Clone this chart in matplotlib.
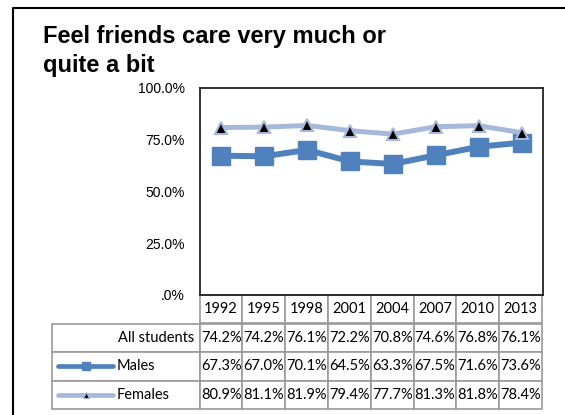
import matplotlib
matplotlib.use('Agg')
import matplotlib.pyplot as plt
from matplotlib.lines import Line2D

years = ['1992', '1995', '1998', '2001', '2004', '2007', '2010', '2013']
all_students = [74.2, 74.2, 76.1, 72.2, 70.8, 74.6, 76.8, 76.1]
males = [67.3, 67.0, 70.1, 64.5, 63.3, 67.5, 71.6, 73.6]
females = [80.9, 81.1, 81.9, 79.4, 77.7, 81.3, 81.8, 78.4]
row_names = ['All students', 'Males', 'Females']
y_ticks = [0, 25, 50, 75, 100]
y_labels = ['.0%', '25.0%', '50.0%', '75.0%', '100.0%']

male_col = '#4F81BD'
female_col = '#A7B9DB'
W, H = 565, 415

fig = plt.figure(figsize=(W / 100, H / 100), dpi=100)
ax = fig.add_axes([200 / W, 1 - 295 / H, 343 / W, 207 / H])

x = list(range(len(years)))
ax.plot(x, males, color=male_col, lw=4.3, marker='s', ms=13, mec=male_col, zorder=3)
ax.plot(x, females, color=female_col, lw=3.6, marker='^', ms=8.5,
        mfc='black', mec=female_col, mew=1.5, zorder=4)

ax.set_xlim(-0.5, len(years) - 0.5)
ax.set_ylim(0, 100)
ax.set_xticks([])
ax.set_yticks(y_ticks)
ax.set_yticklabels(y_labels, fontsize=10, family='Liberation Sans')
ax.tick_params(axis='y', length=0, pad=11)
for s in ax.spines.values():
    s.set_linewidth(1.3)
    s.set_color('#222222')

# data table under the chart (first column holds the row names)
cell_text = [['All students'] + ['%.1f%%' % v for v in all_students],
             [''] + ['%.1f%%' % v for v in males],
             [''] + ['%.1f%%' % v for v in females]]
tb_h = (409 - 295) / 207
tb = ax.table(cellText=cell_text, colLabels=[''] + years,
              colWidths=[148 / 343] + [1 / 8] * 8, cellLoc='center',
              bbox=[(52 - 200) / 343, -tb_h, (542 - 52) / 343, tb_h])
tb.auto_set_font_size(False)
for (r, c), cell in tb.get_celld().items():
    cell.set_edgecolor('#9A9A9A')
    cell.set_linewidth(1.2)
    cell.get_text().set_fontsize(10.5)
    cell.get_text().set_family('Lato')
    if c == 0:
        cell._loc = 'right'
        cell.PAD = 0.04
        cell.get_text().set_ha('right')
tb[0, 0].visible_edges = ''

# legend keys inside the row label cells
row_h = (409 - 295) / 4
for i, (name, col) in enumerate(zip(row_names[1:], [male_col, female_col])):
    yc = 1 - (295 + row_h * (i + 2.5)) / H
    fig.add_artist(Line2D([58 / W, 113 / W], [yc, yc], color=col, lw=3.4,
                          solid_capstyle='round'))
    if name == 'Males':
        fig.add_artist(Line2D([86 / W], [yc], marker='s', ms=5.5, color=col))
    else:
        fig.add_artist(Line2D([86 / W], [yc], marker='^', ms=5, mfc='black',
                              mec=col, mew=0.8))
    fig.text(117 / W, yc, name, fontsize=10.5, family='Lato', va='center', ha='left')

# title and outer frame
fig.text(43 / W, 1 - 43 / H, 'Feel friends care very much or', fontsize=17,
         fontweight='bold', family='Liberation Sans', va='baseline', ha='left')
fig.text(43 / W, 1 - 72 / H, 'quite a bit', fontsize=17,
         fontweight='bold', family='Liberation Sans', va='baseline', ha='left')
fig.add_artist(Line2D([13 / W, 13 / W, 1], [0, 1 - 8 / H, 1 - 8 / H], color='black', lw=1.5))

fig.savefig('out.png', dpi=100)
